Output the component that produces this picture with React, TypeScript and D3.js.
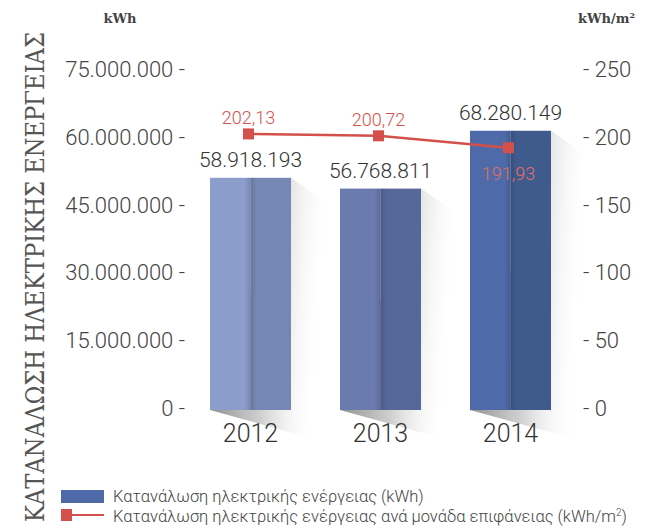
import React from 'react';
import * as d3 from 'd3';

// data
const years = ['2012', '2013', '2014'];
const consumption = [58918193, 56768811, 68280149];
const consumptionLabels = ['58.918.193', '56.768.811', '68.280.149'];
const perArea = [202.13, 200.72, 191.93];
const perAreaLabels = ['202,13', '200,72', '191,93'];
const leftTicks = [0, 15000000, 30000000, 45000000, 60000000, 75000000];
const rightTicks = [0, 50, 100, 150, 200, 250];
const barLight = ['#8b9dcb', '#6a7bb0', '#4e6aa9'];
const barDark = ['#7587b4', '#566899', '#3f5a8d'];

const fmtLeft = (v: number) => (v === 0 ? '0' : d3.format(',')(v).replace(/,/g, '.'));

const NUM_FONT = 'Roboto, sans-serif';
const SERIF = '"DejaVu Serif", serif';

export default function App() {
    let svgWidth = 647, svgHeight = 530;

    let x = d3.scaleBand()
        .domain(years)
        .range([185.5, 575.5])
        .paddingInner(0.377)
        .paddingOuter(0.1885);
    let yLeft = d3.scaleLinear().domain([0, 75000000]).range([408, 69]);
    let yRight = d3.scaleLinear().domain([0, 250]).range([408, 69]);
    // bars in the original are drawn on their own (truncated) scale
    let yBar = d3.scaleLinear().domain([12700000, 75000000]).range([410, 97]);

    let line = d3.line<number>()
        .x((d, i) => (x(years[i]) as number) + x.bandwidth() / 2 - 2)
        .y(d => yRight(d));

    const bw = x.bandwidth();

    return (
        <svg width={svgWidth} height={svgHeight}
            style={{ position: 'absolute', left: 0, top: 0, background: '#fff' }}>
            <defs>
                <linearGradient id="shadow" x1="0" y1="0" x2="1" y2="0.15">
                    <stop offset="0" stopColor="#5e5e5e" stopOpacity="0.85" />
                    <stop offset="0.55" stopColor="#b0b0b0" stopOpacity="0.6" />
                    <stop offset="1" stopColor="#ffffff" stopOpacity="0" />
                </linearGradient>
                <linearGradient id="divider" x1="0" y1="0" x2="1" y2="0">
                    <stop offset="0" stopColor="#000" stopOpacity="0" />
                    <stop offset="0.5" stopColor="#000" stopOpacity="0.14" />
                    <stop offset="1" stopColor="#000" stopOpacity="0" />
                </linearGradient>
            </defs>

            {/* vertical axis title */}
            <text transform="translate(44,522) rotate(-90) scale(1,1.18)" fontFamily={SERIF} fontSize={22}
                fill="#555" textLength={490} lengthAdjust="spacingAndGlyphs">
                ΚΑΤΑΝΑΛΩΣΗ ΗΛΕΚΤΡΙΚΗΣ ΕΝΕΡΓΕΙΑΣ
            </text>

            {/* unit headers */}
            <text x={120} y={23} textAnchor="middle" fontFamily={SERIF} fontWeight="bold"
                fontSize={13} fill="#444">kWh</text>
            <text x={578} y={23} fontFamily={SERIF} fontWeight="bold" fontSize={13} fill="#444">
                kWh/m<tspan fontSize={8} dy={-5}>2</tspan>
            </text>

            {/* left axis */}
            {leftTicks.map(t => (
                <text key={'l' + t} x={185} y={yLeft(t)} dy="0.36em" textAnchor="end"
                    fontFamily={NUM_FONT} fontWeight={300} fontSize={22} fill="#444">
                    {fmtLeft(t) + ' -'}
                </text>
            ))}
            {/* right axis */}
            {rightTicks.map(t => (
                <text key={'r' + t} x={583} y={yRight(t)} dy="0.36em"
                    fontFamily={NUM_FONT} fontWeight={300} fontSize={22} fill="#444">
                    {'- ' + t}
                </text>
            ))}

            {/* bar shadows */}
            {years.map((yr, i) => {
                let x0 = x(yr) as number;
                let x1 = x0 + bw;
                let top = yBar(consumption[i]);
                let bottom = yBar.range()[0];
                let pts = [[x1, top], [x1 + 33, top + 23], [x1 + 38, bottom + 33], [x0, bottom]];
                return <polygon key={'s' + yr} points={pts.map(p => p.join(',')).join(' ')}
                    fill="url(#shadow)" />;
            })}

            {/* bars */}
            {years.map((yr, i) => {
                let x0 = x(yr) as number;
                let top = yBar(consumption[i]);
                let h = yBar.range()[0] - top;
                return (
                    <g key={'b' + yr}>
                        <rect x={x0} y={top} width={bw / 2} height={h} fill={barLight[i]} />
                        <rect x={x0 + bw / 2} y={top} width={bw / 2} height={h} fill={barDark[i]} />
                        <rect x={x0 + bw / 2 - 6} y={top} width={12} height={h} fill="url(#divider)" />
                        <text x={x0 + bw / 2} y={top - 11} textAnchor="middle" fontFamily={NUM_FONT}
                            fontWeight={300} fontSize={21} fill="#333">{consumptionLabels[i]}</text>
                        <text x={x0 + bw / 2} y={442} textAnchor="middle" fontFamily={NUM_FONT}
                            fontWeight={300} fontSize={25} fill="#333">{yr}</text>
                    </g>
                );
            })}

            {/* per-area line */}
            <path d={line(perArea) as string} fill="none" stroke="#d3514a" strokeWidth={2.5} />
            {perArea.map((v, i) => {
                let cx = (x(years[i]) as number) + bw / 2 - 2;
                let cy = yRight(v);
                let below = i === perArea.length - 1;
                return (
                    <g key={'p' + i}>
                        <rect x={cx - 5.5} y={cy - 5.5} width={11} height={11} fill="#d3514a" />
                        <text x={cx} y={below ? cy + 32 : cy - 10} textAnchor="middle"
                            fontFamily={NUM_FONT} fontWeight={300} fontSize={18}
                            fill={below ? '#e0705e' : '#d3514a'}>{perAreaLabels[i]}</text>
                    </g>
                );
            })}

            {/* legend */}
            <rect x={61} y={490} width={43} height={13} fill="#4e6aa9" />
            <text x={113} y={502} fontFamily={NUM_FONT} fontWeight={300} fontSize={16.5} fill="#444">
                Κατανάλωση ηλεκτρικής ενέργειας (kWh)
            </text>
            <line x1={61} x2={104} y1={515} y2={515} stroke="#d3514a" strokeWidth={2} />
            <rect x={61} y={509} width={11} height={12} fill="#d3514a" />
            <text x={113} y={522} fontFamily={NUM_FONT} fontWeight={300} fontSize={16.5} fill="#444">
                Κατανάλωση ηλεκτρικής ενέργειας ανά μονάδα επιφάνειας (kWh/m
                <tspan fontSize={10} dy={-6}>2</tspan><tspan dy={6}>)</tspan>
            </text>
        </svg>
    );
}
